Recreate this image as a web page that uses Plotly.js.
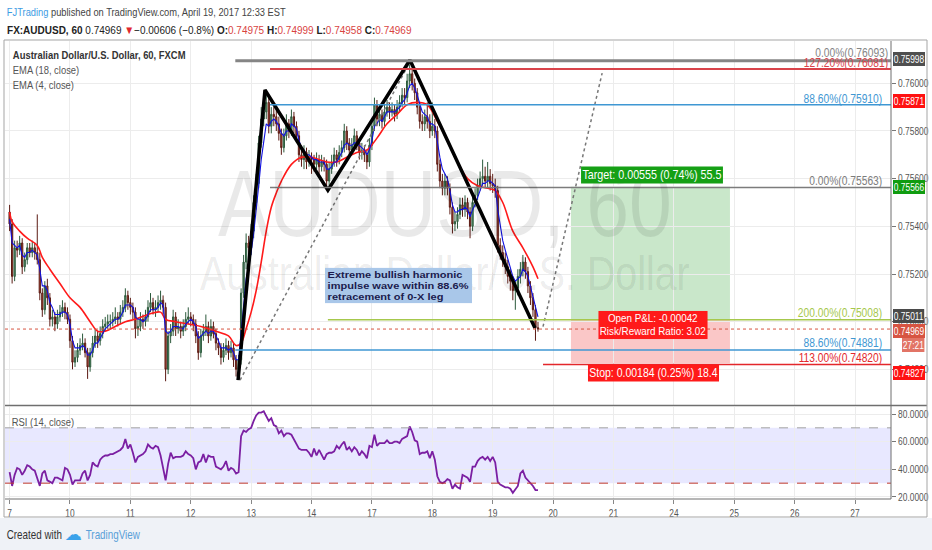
<!DOCTYPE html>
<html><head><meta charset="utf-8">
<script src="https://cdn.plot.ly/plotly-3.0.1.min.js"></script>
<style>html,body{margin:0;padding:0;background:#fff;}#chart{width:932px;height:550px;}</style>
</head><body><div id="chart"></div>
<script>
// ---------------- DATA (prices in pips: value / 10000) ----------------
const PIP = 10000;
const dayTickIdx = [0,24,48,72,96,120,144,168,192,216,240,264,288,312,336];
const dayLabels = ['7','10','11','12','13','14','17','18','19','20','21','24','25','26','27'];

const opens = [7546,7541,7519,7531,7530,7533,7523,7526,7531,7529,
7531,7529,7526,7512,7505,7515,7510,7501,7502,7499,
7502,7504,7506,7504,7501,7492,7483,7485,7488,7490,
7491,7487,7481,7487,7491,7494,7492,7495,7498,7499,
7500,7500,7501,7502,7501,7504,7506,7511,7508,7506,
7504,7497,7498,7501,7500,7502,7506,7508,7505,7506,
7508,7509,7506,7480,7494,7496,7502,7497,7498,7496,
7498,7501,7502,7501,7499,7494,7487,7494,7496,7498,
7494,7498,7495,7491,7489,7485,7488,7490,7487,7489,
7484,7480,7484,7512,7525,7533,7531,7538,7550,7558,
7575,7585,7588,7592,7582,7587,7586,7583,7579,7573,
7578,7583,7580,7586,7582,7578,7570,7568,7571,7567,
7569,7568,7566,7568,7565,7567,7566,7559,7564,7567,
7570,7568,7571,7573,7580,7575,7572,7574,7578,7575,
7571,7572,7570,7567,7574,7582,7591,7585,7587,7584,
7588,7590,7588,7589,7587,7590,7592,7595,7594,7601,
7604,7600,7596,7590,7584,7583,7586,7584,7580,7582,
7580,7566,7559,7556,7559,7556,7548,7541,7542,7545,
7549,7547,7550,7546,7540,7550,7553,7557,7560,7561,
7559,7561,7558,7557,7555,7532,7529,7526,7523,7519,
7517,7513,7514,7519,7522,7525,7521,7515,7510,7505,
7497.5];
const highs = [7549,7543,7534,7534,7536,7535,7529,7533,7533,7534,
7533,7545,7529,7514,7517,7518,7512,7505,7504,7505,
7507,7509,7508,7506,7503,7494,7488,7491,7493,7495,
7493,7489,7489,7494,7497,7496,7498,7501,7502,7503,
7503,7504,7506,7504,7507,7509,7514,7513,7510,7508,
7506,7501,7504,7503,7505,7509,7512,7510,7509,7511,
7513,7511,7508,7496,7499,7505,7504,7501,7500,7501,
7504,7506,7504,7503,7501,7496,7497,7499,7503,7500,
7501,7500,7497,7493,7491,7491,7493,7492,7492,7491,
7486,7486,7514,7528,7537,7536,7541,7553,7562,7578,
7590,7592,7595,7594,7590,7590,7589,7586,7581,7581,
7587,7585,7589,7588,7584,7580,7573,7574,7573,7572,
7571,7570,7571,7570,7570,7569,7568,7567,7570,7573,
7572,7574,7576,7583,7582,7577,7577,7581,7580,7577,
7575,7574,7572,7577,7585,7594,7593,7590,7589,7591,
7593,7592,7592,7591,7593,7595,7598,7598,7604,7608,
7606,7602,7598,7592,7587,7589,7592,7587,7592,7585,
7582,7568,7562,7562,7561,7558,7550,7546,7548,7552,
7552,7553,7552,7548,7553,7556,7560,7563,7568,7565,
7567,7564,7562,7560,7557,7535,7532,7529,7526,7522,
7519,7517,7522,7525,7528,7527,7523,7517,7512,7507,
7499.9];
const lows = [7538,7516,7517,7527,7528,7520,7521,7524,7527,7527,
7526,7524,7509,7502,7503,7507,7498,7498,7496,7497,
7500,7502,7501,7499,7489,7480,7481,7483,7486,7488,
7485,7476,7479,7485,7489,7489,7490,7493,7496,7497,
7497,7498,7499,7498,7499,7502,7504,7505,7503,7501,
7493,7494,7496,7497,7498,7500,7504,7503,7502,7504,
7505,7503,7475,7478,7491,7494,7494,7495,7493,7494,
7496,7499,7498,7496,7491,7484,7485,7492,7494,7491,
7492,7493,7488,7486,7482,7483,7486,7484,7485,7481,
7477,7476,7482,7510,7522,7527,7528,7535,7547,7556,
7573,7582,7585,7579,7579,7582,7580,7576,7570,7571,
7576,7577,7578,7579,7575,7567,7565,7564,7564,7565,
7562,7563,7564,7562,7563,7563,7556,7557,7562,7565,
7565,7566,7569,7571,7572,7569,7570,7572,7572,7568,
7568,7567,7564,7565,7572,7580,7582,7582,7581,7582,
7586,7585,7586,7584,7585,7588,7590,7591,7592,7598,
7597,7593,7587,7581,7580,7580,7581,7577,7578,7577,
7563,7556,7553,7553,7553,7545,7537,7538,7539,7543,
7544,7544,7543,7535,7538,7548,7551,7555,7557,7556,
7556,7555,7554,7552,7529,7526,7523,7520,7516,7513,
7509,7505,7511,7516,7519,7518,7512,7507,7502,7492,
7495.8];
const closes = [7541,7519,7531,7530,7533,7523,7526,7531,7529,7531,
7529,7526,7512,7505,7515,7510,7501,7502,7499,7502,
7504,7506,7504,7501,7492,7483,7485,7488,7490,7491,
7487,7481,7487,7491,7494,7492,7495,7498,7499,7500,
7500,7501,7502,7501,7504,7506,7511,7508,7506,7504,
7497,7498,7501,7500,7502,7506,7508,7505,7506,7508,
7509,7506,7480,7494,7496,7502,7497,7498,7496,7498,
7501,7502,7501,7499,7494,7487,7494,7496,7498,7494,
7498,7495,7491,7489,7485,7488,7490,7487,7489,7484,
7480,7484,7512,7525,7533,7531,7538,7550,7558,7575,
7585,7588,7592,7582,7587,7586,7583,7579,7573,7578,
7583,7580,7586,7582,7578,7570,7568,7571,7567,7569,
7568,7566,7568,7565,7567,7566,7559,7564,7567,7570,
7568,7571,7573,7580,7575,7572,7574,7578,7575,7571,
7572,7570,7567,7574,7582,7591,7585,7587,7584,7588,
7590,7588,7589,7587,7590,7592,7595,7594,7601,7604,
7600,7596,7590,7584,7583,7586,7584,7580,7582,7580,
7566,7559,7556,7559,7556,7548,7541,7542,7545,7549,
7547,7550,7546,7540,7550,7553,7557,7560,7561,7559,
7561,7558,7557,7555,7532,7529,7526,7523,7519,7517,
7513,7514,7519,7522,7525,7521,7515,7510,7505,7497.5,
7496.9];

const ema18Idx = [0,1,4,7,11,13,16,20,24,28,32,35,38,42,46,50,55,60,62,66,71,76,82,87,90,92,94,96,98,100,102,104,106,108,112,116,120,126,130,134,138,142,146,150,154,158,162,166,170,174,178,182,186,190,193,196,200,204,208,210];
const ema18Val = [7546,7542,7538,7535,7532,7527,7522,7516,7510,7506,7500,7496,7496,7498,7500,7501,7503,7504,7501,7500,7499,7498,7496,7494,7490,7491,7497,7504,7513,7525,7538,7548,7554,7559,7566,7569,7569,7567,7567,7569,7571,7572,7577,7583,7587,7591,7592,7591,7584,7576,7567,7560,7557,7556,7555,7550,7538,7531,7523,7518];

const ema4 = [7543,7533,7532,7531,7532,7528,7527,7529,7529,7530,
7529,7528,7522,7515,7515,7513,7508,7506,7503,7503,
7503,7504,7504,7503,7499,7492,7489,7489,7489,7490,
7489,7486,7486,7488,7491,7491,7493,7495,7497,7498,
7499,7500,7501,7501,7502,7504,7507,7507,7507,7506,
7502,7501,7501,7500,7501,7503,7505,7505,7505,7506,
7508,7507,7496,7495,7496,7498,7498,7498,7497,7497,
7499,7500,7501,7500,7498,7493,7494,7495,7496,7495,
7496,7496,7494,7492,7489,7489,7489,7488,7489,7487,
7484,7484,7495,7507,7518,7523,7529,7537,7546,7557,
7568,7576,7583,7582,7584,7585,7584,7582,7579,7578,
7580,7580,7583,7582,7581,7576,7573,7572,7570,7570,
7569,7568,7568,7567,7567,7567,7564,7564,7565,7567,
7567,7569,7571,7574,7575,7574,7574,7575,7575,7574,
7573,7572,7570,7572,7576,7582,7583,7585,7584,7586,
7588,7588,7588,7588,7589,7590,7592,7593,7596,7599,
7600,7598,7595,7591,7588,7587,7586,7583,7583,7582,
7575,7569,7564,7562,7560,7555,7549,7546,7546,7547,
7547,7548,7547,7544,7547,7549,7552,7555,7558,7558,
7559,7559,7558,7557,7547,7540,7534,7530,7526,7522,
7519,7517,7518,7519,7522,7521,7519,7515,7511,7506,
7502];

const rsi = [38,28,36,41,40,36,39,43,42,40,
39,33,28,37,39,32,31,30,34,34,
33,32,41,40,36,29,32,32,32,37,
39,32,36,45,43,42,47,49,50,50,
51,51,52,53,54,56,62,55,58,52,
45,49,50,51,53,58,56,55,57,56,
50,40,32,44,52,48,49,49,49,50,
53,51,50,48,40,45,46,51,45,50,
49,49,42,41,40,42,46,39,41,40,
37,38,64,68,67,69,70,75,79,81,
81,82,78,75,77,72,71,66,68,64,
66,66,65,62,58,55,54,54,54,52,
49,55,50,54,51,47,51,52,52,53,
57,55,58,60,54,56,53,56,54,50,
53,51,48,57,56,65,57,59,59,59,
61,59,59,60,60,59,62,63,64,71,
67,61,60,51,52,52,53,48,53,47,
35,31,30,31,33,32,26,29,27,26,
36,35,34,31,42,42,46,48,49,47,
49,46,49,45,31,29,28,27,27,26,
23,26,28,37,39,34,32,30,28,25,
25];

const priceTicks = [0.748,0.750,0.752,0.754,0.756,0.758,0.760];
const priceTickText = ['0.74800','0.75000','0.75200','0.75400','0.75600','0.75800','0.76000'];
const rsiTicks = [20,40,60,80];
const rsiTickText = ['20.0000','40.0000','60.0000','80.0000'];
const rsiUpper = 70, rsiLower = 30;

// Fibonacci levels drawn on the chart
const fibPrices   = [0.76095,0.76060,0.75910,0.75563,0.75008,0.74881,0.74820];
const fibStartIdx = [89.7,103.5,103.5,103.5,126.5,89.7,212];
const fibLabels   = ['0.00%(0.76093)','127.20%(0.76081)','88.60%(0.75910)','0.00%(0.75563)','200.00%(0.75008)','88.60%(0.74881)','113.00%(0.74820)'];

// Harmonic pattern zig-zag (bar index, price)
const patternIdx   = [90.8,101.5,126.5,159.1,208.8];
const patternPrice = [0.74755,0.75972,0.75552,0.76098,0.74973];
const dotted1Idx = [91.6,159.1], dotted1Price = [0.74755,0.76090];
const dotted2Idx = [212,235.5],  dotted2Price = [0.74979,0.76043];

// Long position tool
const entryPrice = 0.75011, targetPrice = 0.75566, stopPrice = 0.74827;
const posStartIdx = 223.1, posEndIdx = 286.3;
const lastPrice = 0.74969;

// Price-scale label texts
const axisLabelText = ['0.75998','0.75871','0.75566','0.75011','0.74969','27:21','0.74827'];

// ---------------- CHART ----------------
const W = 932, H = 550;
const SANS = 'Liberation Sans, Arial, sans-serif';
const XR = [-1.83, 350.3];
const xDom = [5/W, 891/W];
const bars = closes.map((_, i) => i);
const p = a => a.map(v => v / PIP);
const COND = 0.82;

// styling / placement
const fibColors   = ['#858585','#d9434a','#3f97d3','#7c7c7c','#a6c84c','#3f97d3','#e3272b'];
const fibWidths   = [3,2,1.5,1.5,1.5,1.5,1.5];
const fibLabelShift = [8,6,6,6,7,7,7];
const axisLabelPos = [[893,59],[893,101],[893,186.7],[893,316],[893,330.5],[902,345],[893,373]];
const axisLabelBg  = ['#4f4f4f','#ff1111','#109c10','#4a4a4a','#d75442','#e27466','#ff1111'];

const traces = [
  {type:'candlestick', x:bars, open:p(opens), high:p(highs), low:p(lows), close:p(closes),
   xaxis:'x', yaxis:'y', whiskerwidth:0,
   increasing:{line:{color:'#2c5a3c',width:1}, fillcolor:'#5f9e75'},
   decreasing:{line:{color:'#5b1a13',width:1}, fillcolor:'#b8503a'},
   hoverinfo:'skip', showlegend:false},
  {type:'scatter', mode:'lines', x:ema18Idx, y:p(ema18Val), line:{color:'#ff1a1a',width:1.6,shape:'spline'}, xaxis:'x', yaxis:'y', hoverinfo:'skip'},
  {type:'scatter', mode:'lines', x:bars, y:p(ema4), line:{color:'#1010e0',width:1.1}, xaxis:'x', yaxis:'y', hoverinfo:'skip'},
  {type:'scatter', mode:'lines', x:dotted1Idx, y:dotted1Price, line:{color:'#777',width:1.5,dash:'dot'}, xaxis:'x', yaxis:'y', hoverinfo:'skip'},
  {type:'scatter', mode:'lines', x:dotted2Idx, y:dotted2Price, line:{color:'#777',width:1.5,dash:'dot'}, xaxis:'x', yaxis:'y', hoverinfo:'skip'},
  {type:'scatter', mode:'lines', x:patternIdx, y:patternPrice, line:{color:'#000',width:3.5}, xaxis:'x', yaxis:'y', hoverinfo:'skip'},
  {type:'scatter', mode:'lines', x:bars, y:rsi, line:{color:'#7b1fa2',width:1.8}, xaxis:'x2', yaxis:'y2', hoverinfo:'skip'}
];

const shapes = [];
const A = [];
const annScale = [];
function ann(x, y, text, o, sc) {
  A.push(Object.assign({xref:'paper', yref:'paper', x:x/W, y:1-y/H, text:text, showarrow:false,
    xanchor:'center', yanchor:'middle', font:{family:SANS, size:12, color:'#333'}}, o || {}));
  annScale.push(sc || [COND, 1]);
}
function pline(x0,y0,x1,y1,color,width,dash){
  shapes.push({type:'line', xref:'paper', yref:'paper', x0:x0/W, y0:1-y0/H, x1:x1/W, y1:1-y1/H,
    line:{color:color, width:width, dash:dash||'solid'}});
}

// background band at bottom
shapes.push({type:'rect', xref:'paper', yref:'paper', x0:0, x1:1, y0:0, y1:1-518/H, fillcolor:'#eff2f7', line:{width:0}, layer:'below'});
// RSI band
shapes.push({type:'rect', xref:'paper', yref:'y2', x0:xDom[0], x1:xDom[1], y0:rsiLower, y1:rsiUpper, fillcolor:'rgba(120,120,255,0.17)', line:{width:0}, layer:'below'});
shapes.push({type:'line', xref:'paper', yref:'y2', x0:xDom[0], x1:xDom[1], y0:rsiUpper, y1:rsiUpper, line:{color:'#a0a0a0', width:1, dash:'dash'}});
shapes.push({type:'line', xref:'paper', yref:'y2', x0:xDom[0], x1:xDom[1], y0:rsiLower, y1:rsiLower, line:{color:'#c0392b', width:1, dash:'dash'}});
// position tool
shapes.push({type:'rect', xref:'x', yref:'y', x0:posStartIdx, x1:posEndIdx, y0:entryPrice, y1:targetPrice, fillcolor:'rgba(76,175,80,0.30)', line:{width:0}, layer:'below'});
shapes.push({type:'rect', xref:'x', yref:'y', x0:posStartIdx, x1:posEndIdx, y0:stopPrice, y1:entryPrice, fillcolor:'rgba(240,70,70,0.30)', line:{width:0}, layer:'below'});
// fib lines + labels
fibPrices.forEach((v, k) => {
  shapes.push({type:'line', xref:'x', yref:'y', x0:fibStartIdx[k], x1:XR[1], y0:v, y1:v, line:{color:fibColors[k], width:fibWidths[k]}});
  A.push({xref:'paper', yref:'y', x:(k < 2 ? 890 : 884)/W, y:v, yshift:fibLabelShift[k], xanchor:'right', yanchor:'middle',
    text:fibLabels[k], showarrow:false, font:{family:SANS, size:12.5, color:fibColors[k]}});
  annScale.push([COND, 1]);
});
// current price dotted line
shapes.push({type:'line', xref:'x', yref:'y', x0:XR[0], x1:XR[1], y0:lastPrice, y1:lastPrice, line:{color:'#d75442', width:1, dash:'dot'}});
// frame lines
pline(5,405.5,927,405.5,'#6f6f6f',1.5);
pline(5,499,891,499,'#6f6f6f',1);
pline(891,41,891,499,'#6f6f6f',1);
shapes.push({type:'rect', xref:'paper', yref:'paper', x0:4/W, x1:927/W, y0:1-517/H, y1:1-40/H, line:{color:'#a5a5a5', width:1}});

// watermark
ann(445, 203, 'AUDUSD, 60', {font:{family:SANS, size:94, color:'rgba(0,0,0,0.085)'}});
ann(445, 273, 'Australian Dollar/U.S. Dollar', {font:{family:SANS, size:48, color:'rgba(0,0,0,0.085)'}});

// header
ann(5, 12, '<span style="color:#3d9be3">FJTrading</span> published on TradingView.com, April 19, 2017 12:33 EST', {xanchor:'left', font:{family:SANS, size:11.5, color:'#444'}}, [0.81,1]);
ann(5, 30, '<b>FX:AUDUSD, 60</b> 0.74969 <span style="color:#e0282e">▼</span>−0.00606 (−0.8%) <b>O:</b><span style="color:#d9443f">0.74975</span> <b>H:</b><span style="color:#d9443f">0.74999</span> <b>L:</b><span style="color:#d9443f">0.74958</span> <b>C:</b><span style="color:#d9443f">0.74969</span>', {xanchor:'left', font:{family:SANS, size:11.5, color:'#222'}}, [0.87,1]);
// legend
ann(11, 55, '<b>Australian Dollar/U.S. Dollar, 60, FXCM</b>', {xanchor:'left', font:{family:SANS, size:11.5, color:'#333'}});
ann(11, 70, 'EMA (18, close)', {xanchor:'left', font:{family:SANS, size:11.5, color:'#555'}});
ann(11, 85, 'EMA (4, close)', {xanchor:'left', font:{family:SANS, size:11.5, color:'#555'}});
ann(10, 422, 'RSI (14, close)', {xanchor:'left', font:{family:SANS, size:11.5, color:'#555'}});
// note box
ann(398.5, 285, 'Extreme bullish harmonic<br>impulse wave within 88.6%<br>retracement of 0-X leg', {align:'left', bgcolor:'#a9c7e9', borderpad:2, font:{family:SANS, size:10.5, color:'#1b1b4d', weight:700}}, [1.05, 0.8]);
// position labels
ann(651.5, 175, 'Target: 0.00555 (0.74%) 55.5', {bgcolor:'#15a015', borderpad:1, font:{family:SANS, size:12.5, color:'#fff'}}, [0.86, 1]);
ann(653, 325, 'Open P&amp;L: -0.00042<br>Risk/Reward Ratio: 3.02', {bgcolor:'#ff1a1a', borderpad:1, font:{family:SANS, size:12, color:'#fff'}}, [COND, 0.85]);
ann(653, 373, 'Stop: 0.00184 (0.25%) 18.4', {bgcolor:'#ff1a1a', borderpad:1, font:{family:SANS, size:12.5, color:'#fff'}}, [0.84, 1]);
// price scale labels
axisLabelText.forEach((t, k) => {
  ann(axisLabelPos[k][0], axisLabelPos[k][1], t, {xanchor:'left', bgcolor:axisLabelBg[k], borderpad:1, borderwidth:0, font:{family:SANS, size:10.5, color:'#fff'}}, [0.8, 1]);
});
// footer
ann(5, 535, 'Created with', {xanchor:'left', font:{family:SANS, size:12, color:'#333'}});
ann(73, 534, '☁', {font:{family:'DejaVu Sans', size:17, color:'#3aa2ea'}}, [1,1]);
ann(84, 535, 'TradingView', {xanchor:'left', font:{family:SANS, size:12, color:'#5aa0d8'}});

const layout = {
  width:W, height:H, margin:{l:0,r:0,t:0,b:0},
  paper_bgcolor:'#fff', plot_bgcolor:'rgba(0,0,0,0)',
  showlegend:false, hovermode:false, dragmode:false,
  xaxis:{domain:xDom, range:XR, anchor:'y', tickvals:dayTickIdx, showticklabels:false, ticks:'',
    showgrid:true, gridcolor:'#ececec', zeroline:false, showline:false, rangeslider:{visible:false}, fixedrange:true},
  xaxis2:{domain:xDom, range:XR, anchor:'y2', tickvals:dayTickIdx, ticktext:dayLabels, ticks:'outside', ticklen:4, tickcolor:'#888',
    tickfont:{family:SANS, size:10.5, color:'#555'}, showgrid:true, gridcolor:'#ececec', zeroline:false, showline:false, fixedrange:true},
  yaxis:{domain:[1-405/H, 1-41/H], range:[0.746504, 0.761775], anchor:'x', side:'right', tickvals:priceTicks, ticktext:priceTickText,
    ticks:'outside', ticklen:4, tickcolor:'#777', tickfont:{family:SANS, size:10.5, color:'#555'}, showgrid:true, gridcolor:'#ececec', zeroline:false, showline:false, fixedrange:true},
  yaxis2:{domain:[1-499/H, 1-407/H], range:[18.55, 85.06], anchor:'x2', side:'right', tickvals:rsiTicks, ticktext:rsiTickText,
    ticks:'outside', ticklen:4, tickcolor:'#777', tickfont:{family:SANS, size:10.5, color:'#555'}, showgrid:true, gridcolor:'#ececec', zeroline:false, showline:false, fixedrange:true},
  shapes:shapes, annotations:A
};

// condense text horizontally (the original uses a narrow UI font)
function condense(gd) {
  gd.querySelectorAll('.ytick text, .y2tick text, .x2tick text').forEach(t => {
    const bb = t.getBBox();
    const mid = t.getAttribute('text-anchor') === 'middle';
    const ax = mid ? bb.x + bb.width / 2 : bb.x;
    const tr = t.getAttribute('transform') || '';
    t.setAttribute('transform', tr + ' translate(' + ax + ',0) scale(0.8,1) translate(' + (-ax) + ',0)');
  });
  gd.querySelectorAll('g.annotation').forEach(g => {
    const k = +g.getAttribute('data-index');
    const sc = annScale[k];
    if (!sc || (sc[0] === 1 && sc[1] === 1)) return;
    const tg = g.querySelector('.annotation-text-g');
    if (!tg) return;
    const bb = tg.getBBox();
    const xa = A[k].xanchor;
    const ax = xa === 'left' ? bb.x : (xa === 'right' ? bb.x + bb.width : bb.x + bb.width / 2);
    const ay = bb.y + bb.height / 2;
    tg.setAttribute('transform', 'translate(' + ax + ',' + ay + ') scale(' + sc[0] + ',' + sc[1] + ') translate(' + (-ax) + ',' + (-ay) + ')');
  });
}
Plotly.newPlot('chart', traces, layout, {displayModeBar:false, staticPlot:true}).then(condense);
</script></body></html>
